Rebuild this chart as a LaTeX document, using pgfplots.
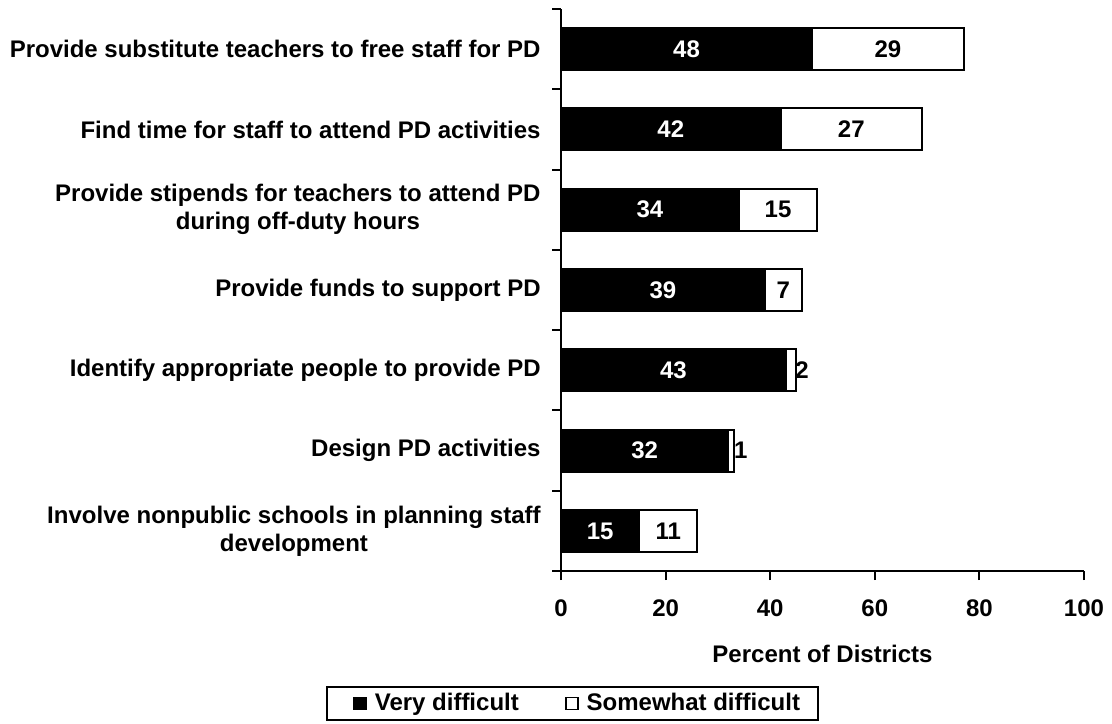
\documentclass[border=0pt]{standalone}
\usepackage{fontspec}
\setmainfont{Liberation Sans}
\usepackage{pgfplots}
\usepackage{pgfplotstable}
\pgfplotsset{compat=1.18}

\pgfplotstableread{
y v1 v2 tot
0 15 11 26
1 32 1 33
2 43 2 45
3 39 7 46
4 34 15 49
5 42 27 69
6 48 29 77
}\bars
\pgfplotstableread{
x y label
7.5 0 15
16 1 32
21.5 2 43
19.5 3 39
17 4 34
21 5 42
24 6 48
}\blacklabels
\pgfplotstableread{
x y label
20.5 0 11
34.4 1 1
46.1 2 2
42.5 3 7
41.5 4 15
55.5 5 27
62.5 6 29
}\whitelabels

\newcommand{\ff}{\fontsize{12}{14}\selectfont\bfseries}

\begin{document}
\begin{tikzpicture}[x=1pt,y=1pt]
\begin{axis}[
  at={(280.5pt,76pt)}, anchor=south west,
  scale only axis, width=261.5pt, height=281pt,
  xmin=0, xmax=100, ymin=-0.5, ymax=6.5,
  axis x line*=bottom, axis y line*=left,
  axis line style={line width=1pt, black},
  xtick={0,20,...,100},
  minor xtick={0,20,...,100},
  ytick={0,...,6},
  minor ytick={-0.5,0.5,...,6.5},
  major tick length=0pt, minor tick length=4.5pt,
  tick align=outside,
  tick style={line width=1pt, black},
  /pgf/number format/assume math mode=true,
  tick label style={font=\ff},
  xticklabel style={anchor=base, inner sep=0pt, yshift=-22.75pt},
  yticklabel style={anchor=east, inner sep=0pt, xshift=-10pt, align=center},
  yticklabels={
    {Involve nonpublic schools in planning staff\\development},
    {Design PD activities},
    {Identify appropriate people to provide PD},
    {Provide funds to support PD},
    {Provide stipends for teachers to attend PD\\during off-duty hours},
    {Find time for staff to attend PD activities},
    {Provide substitute teachers to free staff for PD}},
  xlabel={Percent of Districts},
  xlabel style={font=\ff, at={(axis description cs:0.5,0)}, anchor=base, inner sep=0pt, yshift=-45.75pt},
  legend columns=2,
  legend image code/.code={\path (0pt,0pt); \draw[#1, line width=0.8pt] (8pt,-3pt) rectangle (14pt,3pt);},
  legend style={at={(0.022,-0.2358)}, anchor=center, draw=black, line width=1pt,
    font=\ff, inner xsep=5pt, inner ysep=2pt,
    nodes={inner xsep=4pt, inner ysep=1pt},
    /tikz/every even column/.append style={column sep=11pt}},
]
\addplot[xbar, bar width=21pt, bar shift=0pt, fill=white, draw=black, line width=1pt, forget plot]
  table[x=tot, y=y] {\bars};
\addplot[xbar, bar width=21pt, bar shift=0pt, fill=black, draw=black, line width=1pt, forget plot]
  table[x=v1, y=y] {\bars};
\addplot[only marks, mark=*, mark size=0pt, mark options={draw=none, fill=none}, forget plot,
  point meta=explicit symbolic, nodes near coords, nodes near coords align=center,
  every node near coord/.append style={font=\ff, text=white, inner sep=0pt}]
  table[x=x, y=y, meta=label] {\blacklabels};
\addplot[only marks, mark=*, mark size=0pt, mark options={draw=none, fill=none}, forget plot,
  point meta=explicit symbolic, nodes near coords, nodes near coords align=center,
  every node near coord/.append style={font=\ff, text=black, inner sep=0pt}]
  table[x=x, y=y, meta=label] {\whitelabels};
\addlegendimage{fill=black, draw=black}
\addlegendentry{Very difficult}
\addlegendimage{fill=white, draw=black}
\addlegendentry{Somewhat difficult}
\end{axis}
\pgfresetboundingbox
\useasboundingbox (0,0) rectangle (556,361.5);
\end{tikzpicture}
\end{document}
